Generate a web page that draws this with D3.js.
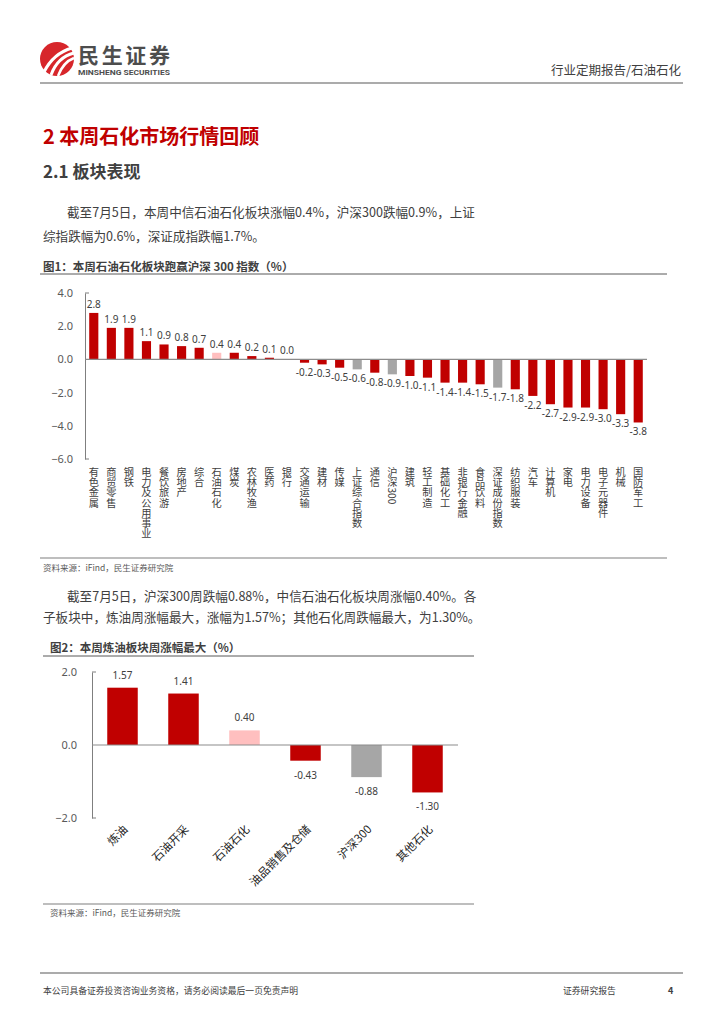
<!DOCTYPE html>
<html><head><meta charset="utf-8">
<script src="https://cdn.jsdelivr.net/npm/d3@7"></script>
<style>
body{margin:0;background:#fff;}
svg{display:block;font-family:"Noto Sans CJK SC","Noto Sans",sans-serif;}
</style></head>
<body>
<svg id="page" width="724" height="1024"></svg>
<script>
// ---------- data ----------
const cat1 = ["有色金属","商贸零售","钢铁","电力及公用事业","餐饮旅游","房地产","综合","石油石化","煤炭","农林牧渔","医药","银行","交通运输","建材","传媒","上证综合指数","通信","沪深300","建筑","轻工制造","基础化工","非银行金融","食品饮料","深证成份指数","纺织服装","汽车","计算机","家电","电力设备","电子元器件","机械","国防军工"];
const val1 = [2.8,1.9,1.9,1.1,0.9,0.8,0.7,0.4,0.4,0.2,0.1,0.0,-0.2,-0.3,-0.5,-0.6,-0.8,-0.9,-1.0,-1.1,-1.4,-1.4,-1.5,-1.7,-1.8,-2.2,-2.7,-2.9,-2.9,-3.0,-3.3,-3.8];
const ticks1 = [4,2,0,-2,-4,-6];
const highlight1 = ["石油石化"];
const index1 = ["上证综合指数","沪深300","深证成份指数"];

const cat2 = ["炼油","石油开采","石油石化","油品销售及仓储","沪深300","其他石化"];
const val2 = [1.57,1.41,0.40,-0.43,-0.88,-1.30];
const ticks2 = [2,0,-2];
const highlight2 = ["石油石化"];
const index2 = ["沪深300"];

const RED="#C00000", PINK="#FFBFBF", GRAY="#A6A6A6", TXT="#404040";
const colorOf=(c,hl,ix)=> hl.includes(c)?PINK:(ix.includes(c)?GRAY:RED);

const svg=d3.select("#page");

// ---------- header ----------
const logo=svg.append("g");
logo.append("circle").attr("cx",57).attr("cy",59).attr("r",17).attr("fill","#D7262B");
logo.append("path").attr("d","M44,72 C50,60 58,52 72,48").attr("stroke","#fff").attr("stroke-width",3).attr("fill","none");
logo.append("path").attr("d","M51,75 C55,64 62,56 74,53").attr("stroke","#fff").attr("stroke-width",3).attr("fill","none");
logo.append("path").attr("d","M58,76 C61,68 66,61 74,58").attr("stroke","#fff").attr("stroke-width",2.5).attr("fill","none");
svg.append("text").attr("x",78).attr("y",63).attr("font-size",21).attr("font-weight",700).attr("fill","#4d4d4d").attr("textLength",92).text("民生证券");
svg.append("text").attr("x",78).attr("y",75).attr("font-size",6.8).attr("font-weight",700).attr("fill","#4d4d4d").attr("font-family","Roboto,'Noto Sans',sans-serif").attr("textLength",92).attr("lengthAdjust","spacingAndGlyphs").text("MINSHENG SECURITIES");
svg.append("text").attr("x",681).attr("y",75).attr("text-anchor","end").attr("font-size",12.5).attr("fill","#404040").text("行业定期报告/石油石化");
svg.append("line").attr("x1",40).attr("x2",683).attr("y1",83).attr("y2",83).attr("stroke","#595959").attr("stroke-width",1.2);

// ---------- headings ----------
svg.append("text").attr("x",43).attr("y",144).attr("font-size",20).attr("font-weight",700).attr("fill","#C00000").text("2 本周石化市场行情回顾");
svg.append("text").attr("x",43).attr("y",178).attr("font-size",17).attr("font-weight",700).attr("fill","#404040").text("2.1 板块表现");

const para=(x,y,t)=>svg.append("text").attr("x",x).attr("y",y).attr("font-size",12.6).attr("fill","#404040").text(t);
para(67,217,"截至7月5日，本周中信石油石化板块涨幅0.4%，沪深300跌幅0.9%，上证");
para(43,241,"综指跌幅为0.6%，深证成指跌幅1.7%。");

svg.append("text").attr("x",43).attr("y",271).attr("font-size",11.5).attr("font-weight",700).attr("fill","#404040").text("图1：本周石油石化板块跑赢沪深 300 指数（%）");
svg.append("line").attr("x1",40).attr("x2",667).attr("y1",274).attr("y2",274).attr("stroke","#595959").attr("stroke-width",1);

// ---------- chart 1 ----------
const x1=d3.scaleBand().domain(cat1).range([85,647]).paddingInner(0.48).paddingOuter(0.24);
const y1=d3.scaleLinear().domain([-6,4]).range([459,293]);
const g1=svg.append("g");
g1.append("g").attr("transform","translate(85,0)")
  .call(d3.axisLeft(y1).tickValues(ticks1).tickFormat(d3.format(".1f")).tickSize(0).tickPadding(12))
  .call(g=>{g.select(".domain").attr("stroke","#7f7f7f");g.selectAll("text").attr("font-size",11).attr("fill","#595959").attr("font-family","'Noto Sans',sans-serif");});
g1.append("line").attr("x1",85).attr("x2",89).attr("y1",y1(4)).attr("y2",y1(4)).attr("stroke","#7f7f7f");
g1.append("line").attr("x1",85).attr("x2",89).attr("y1",y1(-6)).attr("y2",y1(-6)).attr("stroke","#7f7f7f");
g1.selectAll("rect.b").data(cat1).join("rect").attr("class","b")
  .attr("x",d=>x1(d)).attr("width",x1.bandwidth())
  .attr("y",(d,i)=>y1(Math.max(0,val1[i]))).attr("height",(d,i)=>Math.abs(y1(val1[i])-y1(0)))
  .attr("fill",d=>colorOf(d,highlight1,index1));
g1.append("line").attr("x1",85).attr("x2",647).attr("y1",y1(0)).attr("y2",y1(0)).attr("stroke","#8c8c8c").attr("stroke-width",1.2);
g1.selectAll("text.v").data(cat1).join("text").attr("class","v")
  .attr("x",d=>x1(d)+x1.bandwidth()/2)
  .attr("y",(d,i)=>val1[i]>=0? y1(val1[i])-5 : y1(val1[i])+13)
  .attr("text-anchor","middle").attr("font-size",10).attr("fill",TXT).attr("font-family","'Noto Sans',sans-serif")
  .text((d,i)=>d3.format(".1f")(val1[i]).replace("−","-"));
g1.selectAll("text.c").data(cat1).join("text").attr("class","c")
  .attr("x",d=>x1(d)+x1.bandwidth()/2).attr("y",467)
  .style("writing-mode","vertical-rl").attr("font-size",10.2).attr("fill",TXT)
  .text(d=>d);

svg.append("line").attr("x1",40).attr("x2",667).attr("y1",558).attr("y2",558).attr("stroke","#7f7f7f").attr("stroke-width",1.2);
svg.append("text").attr("x",43).attr("y",571).attr("font-size",8.5).attr("fill","#595959").text("资料来源：iFind，民生证券研究院");

para(67,601,"截至7月5日，沪深300周跌幅0.88%，中信石油石化板块周涨幅0.40%。各");
para(43,622,"子板块中，炼油周涨幅最大，涨幅为1.57%；其他石化周跌幅最大，为1.30%。");

svg.append("text").attr("x",50).attr("y",652).attr("font-size",11.5).attr("font-weight",700).attr("fill","#404040").text("图2：本周炼油板块周涨幅最大（%）");
svg.append("line").attr("x1",43).attr("x2",474).attr("y1",656).attr("y2",656).attr("stroke","#595959").attr("stroke-width",1);

// ---------- chart 2 ----------
const x2=d3.scaleBand().domain(cat2).range([92,458]).paddingInner(0.5).paddingOuter(0.25);
const y2=d3.scaleLinear().domain([-2,2]).range([818,672]);
const g2=svg.append("g");
g2.append("g").attr("transform","translate(92,0)")
  .call(d3.axisLeft(y2).tickValues(ticks2).tickFormat(d3.format(".1f")).tickSize(0).tickPadding(15))
  .call(g=>{g.select(".domain").attr("stroke","#7f7f7f");g.selectAll("text").attr("font-size",11).attr("fill","#595959").attr("font-family","'Noto Sans',sans-serif");});
g2.append("line").attr("x1",92).attr("x2",96).attr("y1",y2(2)).attr("y2",y2(2)).attr("stroke","#7f7f7f");
g2.append("line").attr("x1",92).attr("x2",96).attr("y1",y2(-2)).attr("y2",y2(-2)).attr("stroke","#7f7f7f");
g2.selectAll("rect.b").data(cat2).join("rect").attr("class","b")
  .attr("x",d=>x2(d)).attr("width",x2.bandwidth())
  .attr("y",(d,i)=>y2(Math.max(0,val2[i]))).attr("height",(d,i)=>Math.abs(y2(val2[i])-y2(0)))
  .attr("fill",d=>colorOf(d,highlight2,index2));
g2.append("line").attr("x1",92).attr("x2",458).attr("y1",y2(0)).attr("y2",y2(0)).attr("stroke","#8c8c8c").attr("stroke-width",1.2);
g2.selectAll("text.v").data(cat2).join("text").attr("class","v")
  .attr("x",d=>x2(d)+x2.bandwidth()/2)
  .attr("y",(d,i)=>val2[i]>=0? y2(val2[i])-9 : y2(val2[i])+18)
  .attr("text-anchor","middle").attr("font-size",10).attr("fill",TXT).attr("font-family","'Noto Sans',sans-serif")
  .text((d,i)=>d3.format(".2f")(val2[i]).replace("−","-"));
g2.selectAll("text.c").data(cat2).join("text").attr("class","c")
  .attr("transform",d=>`translate(${x2(d)+x2.bandwidth()/2+6},${830}) rotate(-45)`)
  .attr("text-anchor","end").attr("font-size",11.5).attr("fill","#262626")
  .text(d=>d);

svg.append("line").attr("x1",43).attr("x2",474).attr("y1",904).attr("y2",904).attr("stroke","#7f7f7f").attr("stroke-width",1.2);
svg.append("text").attr("x",50).attr("y",916).attr("font-size",8.5).attr("fill","#595959").text("资料来源：iFind，民生证券研究院");

// ---------- footer ----------
svg.append("line").attr("x1",40).attr("x2",683).attr("y1",973).attr("y2",973).attr("stroke","#595959").attr("stroke-width",1.2);
svg.append("text").attr("x",43).attr("y",994).attr("font-size",8.8).attr("fill","#404040").text("本公司具备证券投资咨询业务资格，请务必阅读最后一页免责声明");
svg.append("text").attr("x",563).attr("y",994).attr("font-size",8.8).attr("fill","#404040").text("证券研究报告");
svg.append("text").attr("x",668).attr("y",994).attr("font-size",9).attr("font-weight",700).attr("fill","#404040").text("4");
</script>
</body></html>
